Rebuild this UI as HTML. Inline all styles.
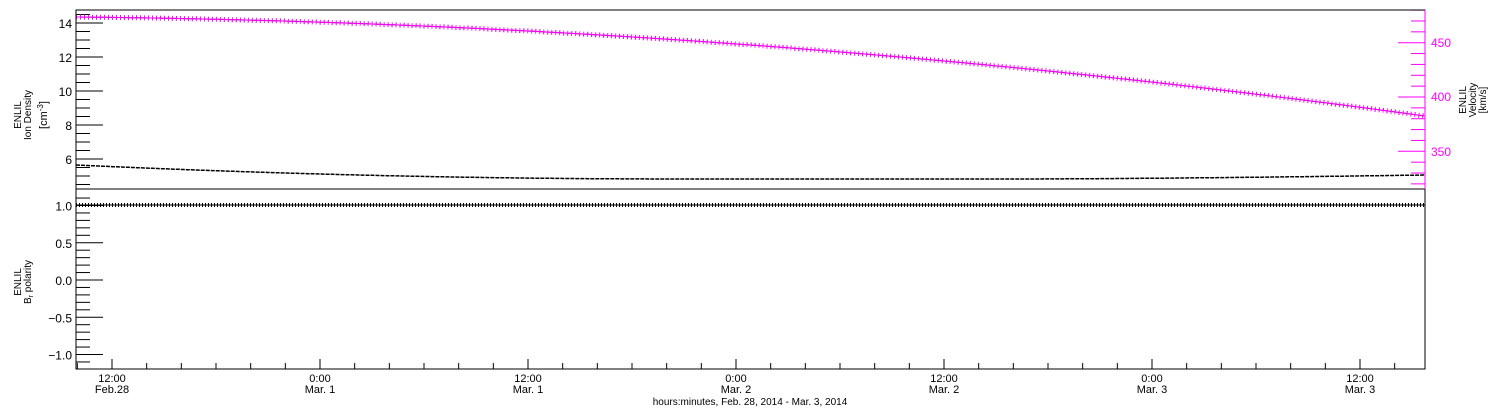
<!DOCTYPE html>
<html><head><meta charset="utf-8"><style>
html,body{margin:0;padding:0;background:#fff;}
svg{display:block;font-family:"Liberation Sans",sans-serif;}
</style></head><body>
<svg id="s" width="1500" height="410" xmlns="http://www.w3.org/2000/svg">
<g id="g"></g>
<text x="1431" y="47" font-size="12" fill="#f0f">450</text>
<text x="1431" y="101" font-size="12" fill="#f0f">400</text>
<text x="1431" y="156" font-size="12" fill="#f0f">350</text>
<g font-size="10" text-anchor="middle">
<text transform="translate(21,115) rotate(-90)">ENLIL</text>
<text transform="translate(31,115) rotate(-90)">Ion Density</text>
<text transform="translate(47,115) rotate(-90)" font-size="11">[cm<tspan dy="-4" font-size="8">-3</tspan><tspan dy="4">]</tspan></text>
<text transform="translate(1466,100) rotate(-90)">ENLIL</text>
<text transform="translate(1476,100) rotate(-90)">Velocity</text>
<text transform="translate(1486,100) rotate(-90)">[km/s]</text>
<text transform="translate(21,282) rotate(-90)">ENLIL</text>
<text transform="translate(31,282) rotate(-90)">B<tspan font-size="7" dy="2">r</tspan><tspan dy="-2"> polarity</tspan></text>
<text x="750" y="405">hours:minutes, Feb. 28, 2014 - Mar.  3, 2014</text>
</g>
</svg>
<script>
const g=document.getElementById('g');let h='';
const L=76,R=1425,T1=10,B1=189,B2=369;
function ln(x1,y1,x2,y2,c){h+=`<line x1="${x1}" y1="${y1}" x2="${x2}" y2="${y2}" stroke="${c||'#000'}" stroke-width="1"/>`;}
function tx(x,y,t,a,c,fs){h+=`<text x="${x}" y="${y}" font-size="${fs||12}" text-anchor="${a||'end'}" fill="${c||'#000'}">${t}</text>`;}
for(let v=4.5;v<=14.7;v+=0.5){const y=23+(14-v)*17;if(y<T1||y>B1)continue;const maj=Math.abs(v-Math.round(v/2)*2)<0.01;ln(L,y,L+(maj?27:14),y);if(maj)tx(72,y+5,v.toFixed(0));}
for(let v=310;v<=480;v+=10){const y=97-(v-400)*1.086;if(y<T1||y>B1)continue;const maj=v%50==0;ln(R,y,R-(maj?27:14),y,'#f0f');}
for(let v=-1.2;v<=1.1;v+=0.1){const y=280-v*74.5;if(y<B1||y>B2)continue;const r=Math.round(v*10);const maj=r%5==0;ln(L,y,L+(maj?27:14),y);if(maj)tx(72,y+5,(r==0?'0.0':(v.toFixed(1)).replace('-','\u2212')));}
const x0=112,px=208/12;
for(let k=-1;k<=80;k++){const x=x0+k*2*px;if(x<L||x>R)continue;const maj=k%6==0;ln(x,B2,x,B2-(maj?10:6));}
const lab=[['12:00','Feb.28'],['0:00','Mar. 1'],['12:00','Mar. 1'],['0:00','Mar. 2'],['12:00','Mar. 2'],['0:00','Mar. 3'],['12:00','Mar. 3']];
lab.forEach((l,i)=>{const x=x0+i*208;tx(x,382,l[0],'middle','#000',11);tx(x,393,l[1],'middle','#000',11);});
let pm='',pk='';
for(let x=L;x<=R;x+=1){const t=(x-L)/(R-L);const ym=17+13*t+86*t*t;pm+=`${x},${ym.toFixed(1)} `;
const yb=165+14*(1-Math.pow(1-Math.min(t/0.45,1),2))-4*Math.max(0,(t-0.7)/0.3)**1.5;pk+=`${x},${yb.toFixed(1)} `;}
h+=`<polyline points="${pk}" fill="none" stroke="#000" stroke-width="1.5" stroke-dasharray="4,1"/>`;
h+=`<polyline points="${pm}" fill="none" stroke="#000" stroke-width="1"/>`;
h+=`<polyline points="${pm}" fill="none" stroke="#f0f" stroke-width="5" stroke-dasharray="1,3"/>`;
h+=`<polyline points="${pm}" fill="none" stroke="#f0f" stroke-width="1"/>`;
h+=`<line x1="${L}" y1="205" x2="${R}" y2="205" stroke="#000" stroke-width="1"/>`;
h+=`<line x1="${L}" y1="205" x2="${R}" y2="205" stroke="#000" stroke-width="4" stroke-dasharray="1,2"/>`;
h+=`<rect x="${L}" y="${T1}" width="${R-L}" height="${B2-T1}" fill="none" stroke="#000"/>`;
ln(L,B1,R,B1);
ln(R,T1,R,B1,'#f0f');
g.innerHTML=h;
</script>
</body></html>
